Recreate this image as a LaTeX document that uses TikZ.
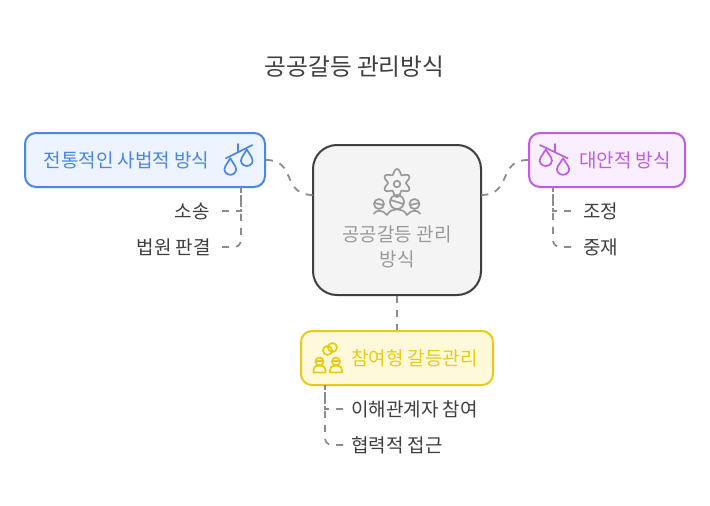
\documentclass[tikz,border=0pt]{standalone}
\usepackage{fontspec}
\setmainfont{Noto Sans CJK KR}
\usetikzlibrary{positioning,calc,shapes}

\definecolor{inkgray}{HTML}{3F3F3F}
\definecolor{conngray}{HTML}{8C8C8C}
\definecolor{bluestroke}{HTML}{4A86E8}
\definecolor{bluefill}{HTML}{EDF3FF}
\definecolor{purplestroke}{HTML}{BE5CE6}
\definecolor{purplefill}{HTML}{FAEFFF}
\definecolor{yellowstroke}{HTML}{E6CC14}
\definecolor{yellowfill}{HTML}{FFF9DB}
\definecolor{hubfill}{HTML}{F4F4F4}
\definecolor{hubtext}{HTML}{9A9A9A}

\tikzset{
  branchbox/.style={draw, line width=2pt, rounded corners=11pt, minimum height=54pt, inner sep=0pt},
  hubbox/.style={draw=inkgray, fill=hubfill, line width=2pt, rounded corners=24pt, minimum width=168pt, minimum height=150pt},
  leaf/.style={text=inkgray, font=\fontsize{19}{23}\selectfont, inner xsep=12pt, inner ysep=0pt, text height=17pt, text depth=2pt},
  boxtext/.style={font=\fontsize{19}{23}\selectfont},
  conn/.style={draw=conngray, line width=1.8pt, dash pattern=on 7pt off 7pt},
  hubicon/.style={draw=hubtext, line width=1.7pt},
  partyicon/.style={draw=yellowstroke, line width=1.7pt, line join=round},
  balance/.pic={
    \draw[pic actions, line cap=round] (-11,-2) -- (13,-14) (0,-15) -- (0,-8);
    \draw[pic actions, line join=round] (-7,-2) -- (-11.5,5.2) .. controls (-14,9.5) and (-10.5,13) .. (-7,13)
      .. controls (-3.5,13) and (0,9.5) .. (-2.5,5.2) -- cycle;
    \draw[pic actions, line join=round] (8,-10) -- (3.5,-2.8) .. controls (1,1.5) and (4.5,5) .. (8,5)
      .. controls (11.5,5) and (15,1.5) .. (12.5,-2.8) -- cycle;
  }
}

\begin{document}
\begin{tikzpicture}[x=1pt, y=-1pt]
  \useasboundingbox (0,0) rectangle (710,506);
  \fill[white] (0,0) rectangle (710,506);

  % Title
  \node[text=inkgray, font=\fontsize{23.7}{28}\selectfont] (title) at (354.5,66.5) {공공갈등 관리방식};

  % Boxes
  \node[hubbox] (hub) at (397,220) {};
  \node[branchbox, draw=bluestroke, fill=bluefill, minimum width=240pt] (trad) at (145,160) {};
  \node[branchbox, draw=purplestroke, fill=purplefill, minimum width=156pt] (alt) at (607,160) {};
  \node[branchbox, draw=yellowstroke, fill=yellowfill, minimum width=192pt] (part) at (397,358) {};

  % Box texts
  \node[boxtext, text=bluestroke] (tradtext) at (126.5,160.5) {전통적인 사법적 방식};
  \node[boxtext, text=purplestroke] (alttext) at (625,160.5) {대안적 방식};
  \node[boxtext, text=yellowstroke] (parttext) at (414.5,358.5) {참여형 갈등관리};
  \node[text=hubtext, align=center, font=\fontsize{19}{25}\selectfont] (hubtext) at (397,246.5) {공공갈등 관리\\방식};

  % Leaves
  \node[leaf, anchor=east] (sosong) at (222,211) {소송};
  \node[leaf, anchor=east, inner xsep=11pt] (court) at (222,247) {법원 판결};
  \node[leaf, anchor=west] (mediate) at (571,211) {조정};
  \node[leaf, anchor=west] (arbit) at (571,247) {중재};
  \node[leaf, anchor=west, inner xsep=8pt] (stake) at (343,409) {이해관계자 참여};
  \node[leaf, anchor=west, inner xsep=8pt] (collab) at (343,445) {협력적 접근};

  % Connectors
  \coordinate (hubleft) at (313,195);
  \coordinate (hubright) at (481,195);
  \draw[conn] (trad.east) .. controls (297,160) and (281,195) .. (hubleft);
  \draw[conn] (alt.west) .. controls (497,160) and (513,195) .. (hubright);
  \draw[conn] (hub.south) -- (part.north);
  \coordinate (tradfoot) at (241,187);
  \coordinate (altfoot) at (553,187);
  \coordinate (partfoot) at (325,385);
  \draw[conn] (sosong.east) -| (tradfoot);
  \draw[conn, rounded corners=7pt] (court.east) -| (tradfoot);
  \draw[conn] (mediate.west) -| (altfoot);
  \draw[conn, rounded corners=7pt] (arbit.west) -| (altfoot);
  \draw[conn] (stake.west) -| (partfoot);
  \draw[conn, rounded corners=7pt] (collab.west) -| (partfoot);

  % Balance icons
  \pic[draw=bluestroke, line width=1.7pt, scale=1.1] at (238,160.5) {balance};
  \pic[draw=purplestroke, line width=1.7pt, xscale=-1.15, yscale=1.1] at (555,160.5) {balance};

  % Hub icon
  \draw[hubicon] plot[domain=0:354, samples=60, smooth cycle] ({397+(11.5-2.5*cos(6*\x))*cos(\x)}, {183+(11.5-2.5*cos(6*\x))*sin(\x)});
  \draw[hubicon] (397,184) circle[radius=3.3pt];
  \draw[hubicon] (397,202) circle[radius=7pt] (390.5,200) -- (403.5,204);
  \draw[hubicon] (379,204) circle[radius=5pt] (374.5,203) -- (383.5,205);
  \draw[hubicon] (414.5,204) circle[radius=5pt] (410,205) -- (419,203);
  \draw[hubicon, line join=round] (373.5,214) .. controls (376,209.5) and (383,209.5) .. (387,215)
    .. controls (389,211) and (393,209.5) .. (397,209.5) .. controls (401,209.5) and (405,211) .. (407,215)
    .. controls (411,209.5) and (418,209.5) .. (420.5,214);

  % Participation icon
  \draw[partyicon] (327.5,350.5) circle[radius=4.5pt] (332.5,347.5) circle[radius=4.5pt];
  \draw[partyicon] (319.5,361.5) circle[radius=4pt] (315.5,361) -- (323.5,361);
  \draw[partyicon] (336,361.5) circle[radius=4pt] (332,361) -- (340,361);
  \draw[partyicon] (313.5,372.5) -- (313.5,370) .. controls (314,366) and (317,365.5) .. (319.5,365.5) .. controls (322,365.5) and (325,366) .. (325.5,370) -- (325.5,372.5) -- cycle;
  \draw[partyicon] (330,372.5) -- (330,370) .. controls (330.5,366) and (333.5,365.5) .. (336,365.5) .. controls (338.5,365.5) and (341.5,366) .. (342,370) -- (342,372.5) -- cycle;
\end{tikzpicture}
\end{document}
